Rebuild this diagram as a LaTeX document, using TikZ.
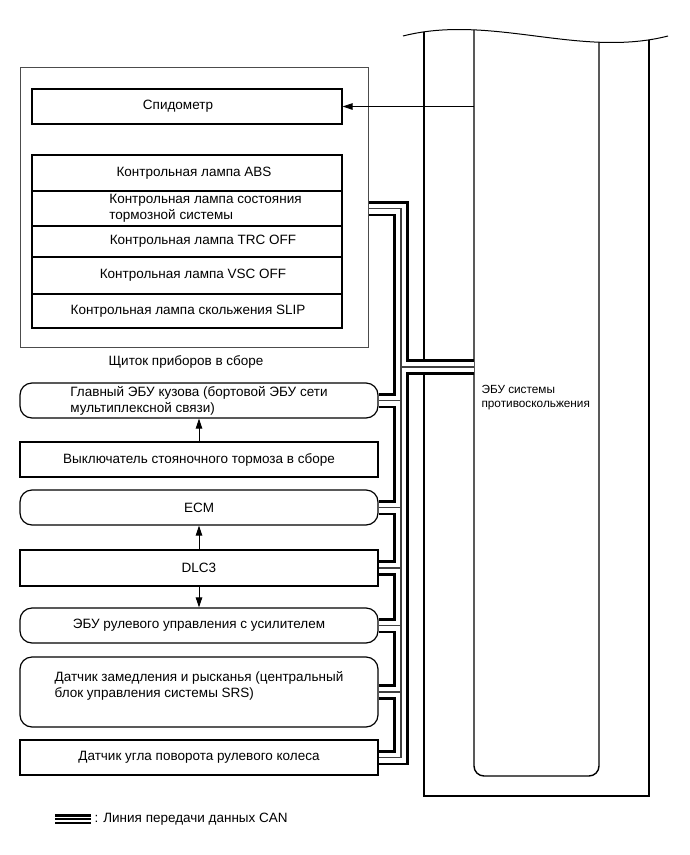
\documentclass[tikz,border=0pt]{standalone}
\usepackage{fontspec}
\setmainfont{Liberation Sans}
\usetikzlibrary{arrows.meta,backgrounds}
\tikzset{
  unit/.style={draw,line width=1.2pt,minimum width=358pt,minimum height=35pt,inner sep=0pt,align=left},
  ecu/.style={unit,rounded corners=12pt},
  lamp/.style={draw,line width=1.2pt,minimum width=310pt,inner sep=0pt},
  sig/.style={line width=0.9pt,-{Triangle[length=10pt,width=6.5pt]}}
}

\begin{document}
\begin{tikzpicture}[x=1pt,y=-1pt,font=\fontsize{13.5}{16}\selectfont,
  canbus/.style={insert path={(brk.east -| clu.east) -| (bus |- steer.east) -- (steer.east)
    (bus |- ecuCan) -- (ecuCan)
    (body.east) -- (body.east -| bus) (ecm.east) -- (ecm.east -| bus)
    (dlc.east) -- (dlc.east -| bus) (eps.east) -- (eps.east -| bus)
    (yaw.east) -- (yaw.east -| bus)}}]
\useasboundingbox (0,0) rectangle (690,855);

% instrument cluster
\node[draw=black!70,line width=0.8pt,minimum width=348pt,minimum height=280pt] (clu) at (194,207) {};
\node[lamp,minimum height=35pt] (spd) at (187,106.5) {};
\node[xshift=-9pt] (spd-t) at (spd) {Спидометр};
\foreach \n/\yc/\h/\dx/\txt in {abs/173/36/7/{Контрольная лампа ABS},
    brk/208.5/35/18.5/{Контрольная лампа состояния\\тормозной системы},
    trc/241.5/31/16/{Контрольная лампа TRC OFF},
    vsc/275.5/37/6/{Контрольная лампа VSC OFF},
    slip/311/34/1/{Контрольная лампа скольжения SLIP}}
  {\node[lamp,minimum height=\h pt] (\n) at (187,\yc) {};
   \node[align=left,xshift=\dx pt] (\n-t) at (\n) {\txt};}
\node (clu-t) at (186,362) {Щиток приборов в сборе};

% units on the bus
\node[ecu] (body) at (199,400.5) {Главный ЭБУ кузова (бортовой ЭБУ сети\\мультиплексной связи)};
\node[unit] (park) at (199,459.5) {Выключатель стояночного тормоза в сборе};
\node[ecu] (ecm) at (199,507.5) {ECM};
\node[unit,minimum height=36pt] (dlc) at (199,568) {DLC3};
\node[ecu] (eps) at (199,625.5) {ЭБУ рулевого управления с усилителем};
\node[ecu,minimum height=70pt] (yaw) at (199,692) {Датчик замедления и рысканья (центральный\\блок управления системы SRS)\\\mbox{}};
\node[unit] (steer) at (199,757.5) {Датчик угла поворота рулевого колеса};

% skid control ECU
\coordinate (bus) at (401,0);
\coordinate (ecuSpd) at (474,106.5);
\coordinate (ecuCan) at (474,367);
\node[anchor=west,align=left,font=\fontsize{11.8}{13.5}\selectfont] (ecu-t) at (478,397.5) {ЭБУ системы\\противоскольжения};
\draw[line width=1pt] (403,36) .. controls (491,13.5) and (580,58.5) .. (668,36);
\begin{scope}[on background layer]
\draw[line width=1.2pt] (424,31.9) |- (649,796) -- (649,39.9);
\draw[line width=1.4pt,rounded corners=10pt] (474,29.9) |- (599,776) -- (599,42.2);
\foreach \w/\c in {15.5pt/black,10pt/white,1.2pt/black!75} \draw[line width=\w,\c,canbus];
\end{scope}

\draw[sig] (ecuSpd) -- (spd.east);
\draw[sig] (park) -- (body);
\draw[sig] (dlc) -- (ecm);
\draw[sig] (dlc) -- (eps);

% legend
\node[anchor=west] (key) at (91,819) {: Линия передачи данных CAN};
\coordinate (keyL) at (55,819);
\foreach \w/\c in {10.5pt/black,5pt/white,1.3pt/black} \draw[line width=\w,\c] (keyL) -- (key.west);
\end{tikzpicture}
\end{document}
